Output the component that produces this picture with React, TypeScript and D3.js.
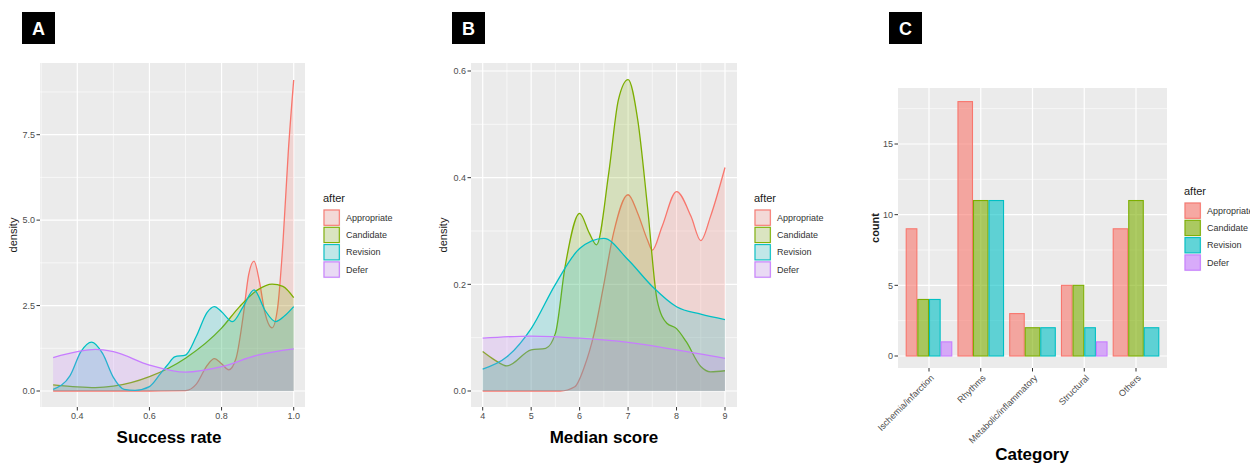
import React from 'react';
import * as d3 from 'd3';

type Pt = [number, number];

const FONT = '"Liberation Sans", Arial, sans-serif';

const groups = ['Appropriate', 'Candidate', 'Revision', 'Defer'];
const groupColors = ['#F8766D', '#7CAE00', '#00BFC4', '#C77CFF'];

// A: density of success rate
const successAppropriate: Pt[] = [
	[0.333, 0], [0.6, 0], [0.7, 0.01], [0.73, 0.2], [0.76, 0.75], [0.78, 0.95], [0.8, 0.8],
	[0.82, 0.62], [0.84, 0.95], [0.86, 2.2], [0.875, 3.4], [0.89, 3.8], [0.905, 3.2],
	[0.92, 2.3], [0.94, 1.85], [0.955, 2.4], [0.97, 4.3], [0.985, 7.0], [1.0, 9.1],
];
const successCandidate: Pt[] = [
	[0.333, 0.18], [0.4, 0.12], [0.45, 0.1], [0.5, 0.14], [0.6, 0.42], [0.7, 0.96],
	[0.8, 1.84], [0.85, 2.47], [0.9, 2.96], [0.94, 3.13], [0.97, 3.06], [1.0, 2.73],
];
const successRevision: Pt[] = [
	[0.333, 0.05], [0.38, 0.45], [0.41, 1.15], [0.44, 1.43], [0.47, 1.1], [0.5, 0.4],
	[0.53, 0.05], [0.56, 0.02], [0.6, 0.13], [0.63, 0.5], [0.65, 0.76], [0.67, 1.0],
	[0.7, 1.05], [0.73, 1.6], [0.76, 2.3], [0.78, 2.47], [0.8, 2.32], [0.83, 2.03],
	[0.86, 2.47], [0.89, 2.96], [0.92, 2.37], [0.95, 2.03], [0.975, 2.2], [1.0, 2.47],
];
const successDefer: Pt[] = [
	[0.333, 0.98], [0.4, 1.15], [0.45, 1.22], [0.5, 1.15], [0.6, 0.76], [0.7, 0.55],
	[0.8, 0.71], [0.9, 1.05], [1.0, 1.23],
];
const successXTicks = [0.4, 0.6, 0.8, 1.0];
const successXMinor = [0.3, 0.5, 0.7, 0.9];
const successYTicks = [0, 2.5, 5, 7.5];
const successYMinor = [1.25, 3.75, 6.25, 8.75];

// B: density of median score
const medianAppropriate: Pt[] = [
	[4, 0], [5.6, 0], [5.9, 0.008], [6.1, 0.046], [6.3, 0.108], [6.5, 0.2], [6.7, 0.296],
	[7.0, 0.368], [7.2, 0.333], [7.4, 0.283], [7.5, 0.264], [7.7, 0.308], [8.0, 0.374],
	[8.3, 0.327], [8.5, 0.282], [8.7, 0.327], [9.0, 0.419],
];
const medianCandidate: Pt[] = [
	[4, 0.074], [4.25, 0.058], [4.5, 0.047], [5.0, 0.077], [5.3, 0.08], [5.5, 0.108],
	[5.7, 0.233], [6.0, 0.333], [6.2, 0.296], [6.35, 0.274], [6.6, 0.408], [6.8, 0.546],
	[7.0, 0.584], [7.2, 0.508], [7.4, 0.346], [7.6, 0.17], [7.8, 0.127], [8.0, 0.117],
	[8.2, 0.0925], [8.5, 0.046], [8.7, 0.036], [9.0, 0.038],
];
const medianRevision: Pt[] = [
	[4, 0.041], [4.5, 0.064], [5.0, 0.117], [5.5, 0.2], [6.0, 0.267], [6.5, 0.286],
	[7.0, 0.246], [7.5, 0.196], [8.0, 0.158], [8.5, 0.144], [9.0, 0.134],
];
const medianDefer: Pt[] = [
	[4, 0.099], [5, 0.103], [6, 0.099], [7, 0.091], [8, 0.077], [9, 0.061],
];
const medianXTicks = [4, 5, 6, 7, 8, 9];
const medianXMinor = [4.5, 5.5, 6.5, 7.5, 8.5];
const medianYTicks = [0, 0.2, 0.4, 0.6];
const medianYMinor = [0.1, 0.3, 0.5];

// C: counts per category
const categories = ['Ischemia/infarction', 'Rhythms', 'Metabolic/inflammatory', 'Structural', 'Others'];
const countAppropriate = [9, 18, 3, 5, 9];
const countCandidate = [4, 11, 2, 5, 11];
const countRevision = [4, 11, 2, 2, 2];
const countDefer = [1, 0, 0, 1, 0];
const countYTicks = [0, 5, 10, 15];
const countYMinor = [2.5, 7.5, 12.5, 17.5];

const fmt1 = d3.format('.1f');

const Legend = ({ x, y, opacity }) => (
	<g transform={ `translate(${ x },${ y })` }>
		<text x={ 0 } y={ 0 } fontSize={ 11 } fill="#1a1a1a">after</text>
		{ groups.map((g, i) => (
			<g key={ g } transform={ `translate(0,${ 7 + i * 17.3 })` }>
				<rect x={ 0 } y={ 0 } width={ 17.3 } height={ 17.3 } fill="#F2F2F2"/>
				<rect x={ 1 } y={ 1 } width={ 15.3 } height={ 15.3 } fill={ groupColors[i] }
					fillOpacity={ opacity } stroke={ groupColors[i] } strokeWidth={ 1.1 }/>
				<text x={ 23 } y={ 11.8 } fontSize={ 9 } fill="#333">{ g }</text>
			</g>
		)) }
	</g>
);

const Tag = ({ x, label }) => (
	<g>
		<rect x={ x } y={ 12 } width={ 33 } height={ 32 } fill="#000"/>
		<text x={ x + 16.5 } y={ 34.5 } textAnchor="middle" fontSize={ 18 } fontWeight="bold" fill="#fff">{ label }</text>
	</g>
);

const Grid = ({ box, xs, ys, xMinor, yMinor }) => (
	<g>
		<rect x={ box.left } y={ box.top } width={ box.right - box.left } height={ box.bottom - box.top } fill="#EBEBEB"/>
		{ yMinor.map((v) => <line key={ `ym${ v }` } x1={ box.left } x2={ box.right } y1={ v } y2={ v } stroke="#fff" strokeWidth={ 0.6 }/>) }
		{ xMinor.map((v) => <line key={ `xm${ v }` } y1={ box.top } y2={ box.bottom } x1={ v } x2={ v } stroke="#fff" strokeWidth={ 0.6 }/>) }
		{ ys.map((v) => <line key={ `y${ v }` } x1={ box.left } x2={ box.right } y1={ v } y2={ v } stroke="#fff" strokeWidth={ 1.2 }/>) }
		{ xs.map((v) => <line key={ `x${ v }` } y1={ box.top } y2={ box.bottom } x1={ v } x2={ v } stroke="#fff" strokeWidth={ 1.2 }/>) }
	</g>
);

const DensityPanel = ({ box, x, y, series, xTicks, xMinor, yTicks, yMinor, xFmt, yFmt, title, titleX, yTitleX, tag, tagX, legendX }) => {
	const area = d3.area<Pt>().x((d) => x(d[0])).y0(y(0)).y1((d) => y(d[1])).curve(d3.curveMonotoneX);
	const line = d3.line<Pt>().x((d) => x(d[0])).y((d) => y(d[1])).curve(d3.curveMonotoneX);
	return (
		<g>
			<Tag x={ tagX } label={ tag }/>
			<Grid box={ box } xs={ xTicks.map(x) } ys={ yTicks.map(y) } xMinor={ xMinor.map(x) } yMinor={ yMinor.map(y) }/>
			{ series.map((s, i) => (
				<g key={ groups[i] }>
					<path d={ area(s) } fill={ groupColors[i] } fillOpacity={ 0.2 }/>
					<path d={ line(s) } fill="none" stroke={ groupColors[i] } strokeWidth={ 1.3 }/>
				</g>
			)) }
			{ yTicks.map((v) => (
				<g key={ `yt${ v }` }>
					<line x1={ box.left - 3.5 } x2={ box.left } y1={ y(v) } y2={ y(v) } stroke="#333" strokeWidth={ 1 }/>
					<text x={ box.left - 5 } y={ y(v) + 3.2 } textAnchor="end" fontSize={ 9 } fill="#4D4D4D">{ yFmt(v) }</text>
				</g>
			)) }
			{ xTicks.map((v) => (
				<g key={ `xt${ v }` }>
					<line x1={ x(v) } x2={ x(v) } y1={ box.bottom } y2={ box.bottom + 3.5 } stroke="#333" strokeWidth={ 1 }/>
					<text x={ x(v) } y={ box.bottom + 12 } textAnchor="middle" fontSize={ 9 } fill="#4D4D4D">{ xFmt(v) }</text>
				</g>
			)) }
			<text transform={ `translate(${ yTitleX },${ (box.top + box.bottom) / 2 }) rotate(-90)` } textAnchor="middle" fontSize={ 11 } fill="#1a1a1a">density</text>
			<text x={ titleX } y={ 443 } textAnchor="middle" fontSize={ 17 } fontWeight="bold" fill="#000">{ title }</text>
			<Legend x={ legendX } y={ 202 } opacity={ 0.2 }/>
		</g>
	);
};

const BarPanel = () => {
	const box = { left: 898, right: 1167, top: 88, bottom: 368 };
	const x = d3.scalePoint<string>().domain(categories).range([929, 1136]);
	const y = d3.scaleLinear().domain([0, 15]).range([356, 144]);
	const counts = [countAppropriate, countCandidate, countRevision, countDefer];
	const dodge = x.step() * 0.9;
	return (
		<g>
			<Tag x={ 889 } label="C"/>
			<Grid box={ box } xs={ categories.map((c) => x(c)) } ys={ countYTicks.map(y) } xMinor={ [] } yMinor={ countYMinor.map(y) }/>
			{ categories.map((c, ci) => {
				const present = groups.map((g, gi) => gi).filter((gi) => counts[gi][ci] > 0);
				const w = dodge / present.length;
				const x0 = x(c) - dodge / 2;
				return present.map((gi, k) => (
					<rect key={ `${ c }${ gi }` } x={ x0 + k * w + 0.5 } y={ y(counts[gi][ci]) } width={ w - 1 }
						height={ y(0) - y(counts[gi][ci]) } fill={ groupColors[gi] } fillOpacity={ 0.6 }
						stroke={ groupColors[gi] } strokeWidth={ 1.1 }/>
				));
			}) }
			{ countYTicks.map((v) => (
				<g key={ `cy${ v }` }>
					<line x1={ box.left - 3.5 } x2={ box.left } y1={ y(v) } y2={ y(v) } stroke="#333" strokeWidth={ 1 }/>
					<text x={ box.left - 5 } y={ y(v) + 3.2 } textAnchor="end" fontSize={ 9 } fill="#4D4D4D">{ v }</text>
				</g>
			)) }
			{ categories.map((c) => (
				<g key={ `cx${ c }` }>
					<line x1={ x(c) } x2={ x(c) } y1={ box.bottom } y2={ box.bottom + 3.5 } stroke="#333" strokeWidth={ 1 }/>
					<text transform={ `translate(${ x(c) + 1 },${ box.bottom + 6 }) rotate(-45)` } textAnchor="end" dy="0.7em"
						fontSize={ 9 } fill="#4D4D4D">{ c }</text>
				</g>
			)) }
			<text transform={ `translate(879,${ (box.top + box.bottom) / 2 }) rotate(-90)` } textAnchor="middle" fontSize={ 11 } fontWeight="bold" fill="#1a1a1a">count</text>
			<text x={ 1032 } y={ 460 } textAnchor="middle" fontSize={ 17 } fontWeight="bold" fill="#000">Category</text>
			<Legend x={ 1184 } y={ 195 } opacity={ 0.6 }/>
		</g>
	);
};

const App = () => {
	const boxA = { left: 40, right: 305, top: 63, bottom: 407 };
	const xA = d3.scaleLinear().domain([0.4, 1.0]).range([77.3, 293.7]);
	const yA = d3.scaleLinear().domain([0, 7.5]).range([391, 134.7]);
	const boxB = { left: 471, right: 737, top: 63, bottom: 407 };
	const xB = d3.scaleLinear().domain([4, 9]).range([482.7, 725]);
	const yB = d3.scaleLinear().domain([0, 0.6]).range([391, 71]);

	return (
		<div style={ { position: 'absolute', left: 0, top: 0 } }>
			<svg width={ 1250 } height={ 463 } style={ { display: 'block', fontFamily: FONT } }>
				<rect width={ 1250 } height={ 463 } fill="#fff"/>
				<DensityPanel box={ boxA } x={ xA } y={ yA }
					series={ [successAppropriate, successCandidate, successRevision, successDefer] }
					xTicks={ successXTicks } xMinor={ successXMinor } yTicks={ successYTicks } yMinor={ successYMinor }
					xFmt={ fmt1 } yFmt={ fmt1 } title="Success rate" titleX={ 169 } yTitleX={ 17 }
					tag="A" tagX={ 22 } legendX={ 323 }/>
				<DensityPanel box={ boxB } x={ xB } y={ yB }
					series={ [medianAppropriate, medianCandidate, medianRevision, medianDefer] }
					xTicks={ medianXTicks } xMinor={ medianXMinor } yTicks={ medianYTicks } yMinor={ medianYMinor }
					xFmt={ (v) => `${ v }` } yFmt={ fmt1 } title="Median score" titleX={ 604 } yTitleX={ 447 }
					tag="B" tagX={ 452 } legendX={ 754 }/>
				<BarPanel/>
			</svg>
		</div>
	);
};

export default App;
